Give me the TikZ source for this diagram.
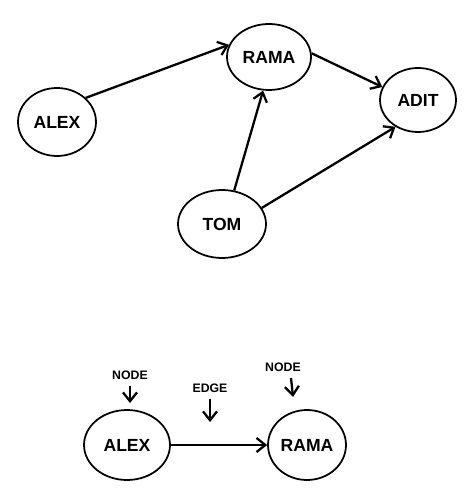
\documentclass[tikz,border=0pt]{standalone}
\usepackage{fontspec}
\setmainfont{Liberation Sans}
\usepackage{tikz}
\usetikzlibrary{arrows.meta, shapes.geometric}

\begin{document}
\begin{tikzpicture}[x=0.02cm, y=-0.02cm, font=\bfseries, >={Straight Barb[length=5pt,width=8pt]},
    person/.style={ellipse, draw, line width=1pt, inner sep=0pt},
    link/.style={->, line width=1.3pt}]
  \useasboundingbox (0,0) rectangle (465,499);
  % graph
  \node[person, minimum width=1.56cm, minimum height=1.36cm] (alex) at (57,122) {ALEX};
  \node[person, minimum width=1.68cm, minimum height=1.32cm] (rama) at (269,57) {RAMA};
  \node[person, minimum width=1.52cm, minimum height=1.28cm] (adit) at (418,100) {ADIT};
  \node[person, minimum width=1.76cm, minimum height=1.36cm] (tom) at (222,224) {TOM};
  \draw[link] (alex.40) -- (rama.163);
  \draw[link] (rama.5) -- (adit.160);
  \draw[link] (tom.70) -- (rama.-100);
  \draw[link] (tom.22) -- (adit.-130);
  % legend
  \node[person, minimum width=1.72cm, minimum height=1.4cm] (alexb) at (127,445) {ALEX};
  \node[person, minimum width=1.56cm, minimum height=1.4cm] (ramab) at (307,445) {RAMA};
  \draw[link] (alexb) -- (ramab);
  \node[font=\bfseries\scriptsize] (nodea) at (130,375) {NODE};
  \node[font=\bfseries\scriptsize] (edge) at (210,388) {EDGE};
  \node[font=\bfseries\scriptsize] (nodeb) at (283,367) {NODE};
  \coordinate (taila) at (130,403);
  \coordinate (tailedge) at (210,422);
  \coordinate (headb) at (291,378);
  \coordinate (tailb) at (293,397);
  \draw[link] (nodea) -- (taila);
  \draw[link] (edge) -- (tailedge);
  \draw[link] (headb) -- (tailb);
\end{tikzpicture}
\end{document}
